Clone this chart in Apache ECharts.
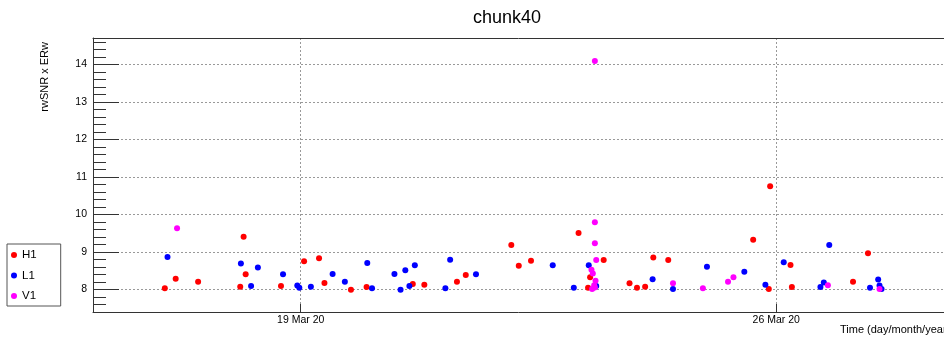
<!DOCTYPE html>
<html><head><meta charset="utf-8">
<script src="https://cdn.jsdelivr.net/npm/echarts@6/dist/echarts.min.js"></script>
<style>html,body{margin:0;padding:0;background:#fff}#c{width:944px;height:338px}</style>
</head><body><div id="c"></div>
<script>
// Detectors (legend order)
const categories = ['H1', 'L1', 'V1'];
const colors = ['#ff0000', '#0000ff', '#ff00ff'];

// Time in days of March 2020 (fractional), value rwSNR x ERw
const h1Time = [17.00,17.16,17.49,18.11,18.16,18.19,18.71,19.05,19.27,19.35,19.74,19.97,20.65,20.82,21.30,21.43,22.10,22.21,22.39,23.09,23.23,23.26,23.46,23.84,23.95,24.07,24.19,24.41,25.66,25.89,25.91,26.21,26.23,27.13,27.35];
const h1Val  = [8.03,8.28,8.20,8.07,9.40,8.40,8.09,8.75,8.83,8.17,7.99,8.06,8.14,8.12,8.20,8.38,9.18,8.63,8.76,9.50,8.04,8.32,8.78,8.16,8.04,8.07,8.85,8.78,9.32,8.01,10.75,8.65,8.06,8.20,8.96];

const l1Time = [17.04,18.12,18.27,18.37,18.74,18.95,18.98,19.15,19.47,19.65,19.98,20.05,20.38,20.47,20.54,20.60,20.68,21.13,21.20,21.58,22.71,23.02,23.24,23.35,24.18,24.48,24.98,25.53,25.84,26.11,26.65,26.70,26.78,27.38,27.50,27.52,27.55];
const l1Val  = [8.86,8.69,8.09,8.58,8.40,8.10,8.04,8.07,8.41,8.20,8.70,8.03,8.41,7.99,8.51,8.09,8.64,8.03,8.79,8.40,8.64,8.04,8.64,8.09,8.27,8.01,8.60,8.47,8.12,8.72,8.06,8.18,9.18,8.04,8.26,8.10,8.01];

const v1Time = [17.18,23.33,23.33,23.33,23.35,23.28,23.30,23.34,23.32,23.29,23.33,24.48,24.92,25.29,25.37,26.76,27.52];
const v1Val  = [9.63,14.09,9.79,9.23,8.78,8.52,8.42,8.23,8.11,8.01,8.05,8.16,8.03,8.20,8.32,8.11,8.01];

// Axis ticks / labels
const xTickValues = [19, 26];
const xTickLabels = ['19 Mar 20', '26 Mar 20'];
const yMajorTicks = [8, 9, 10, 11, 12, 13, 14];
const yMinorTicks = [];
for (let i = 37; i <= 73; i++) yMinorTicks.push(Math.round(i * 2) / 10);

const xMin = 15.943, xMax = 28.469;
const yMin = 7.395, yMax = 14.70;

const FONT = 'Liberation Sans';
const AX = '#333';
const gridLine = { show: true, lineStyle: { type: [2, 2], color: '#999', width: 1 } };

const zip = (a, b) => a.map((t, i) => [t, b[i]]);
const seriesData = [zip(h1Time, h1Val), zip(l1Time, l1Val), zip(v1Time, v1Val)];

const chart = echarts.init(document.getElementById('c'), null, { renderer: 'canvas' });
chart.setOption({
  animation: false,
  backgroundColor: '#fff',
  title: [
    { text: 'chunk40', left: 473, top: 9, padding: 0,
      textStyle: { fontFamily: FONT, fontSize: 18, fontWeight: 'normal', color: '#000' } },
    { text: 'Time (day/month/year)', left: 840, top: 324, padding: 0,
      textStyle: { fontFamily: FONT, fontSize: 11, fontWeight: 'normal', color: '#000' } }
  ],
  graphic: [
    { type: 'text', x: 45, y: 42, rotation: Math.PI / 2,
      style: { text: 'rwSNR x ERw', fontFamily: FONT, fontSize: 11, fill: '#000', align: 'right', verticalAlign: 'middle' } }
  ],
  legend: {
    orient: 'vertical', left: 7, top: 244,
    data: categories, icon: 'circle', itemWidth: 6, itemHeight: 6, itemGap: 6.5,
    borderColor: '#555', borderWidth: 1, padding: [4, 24, 3, 4],
    textStyle: { fontFamily: FONT, fontSize: 11.5, color: '#000', lineHeight: 14 }
  },
  grid: { left: 93, right: 0, top: 38, bottom: 26, containLabel: false },
  xAxis: [
    { type: 'value', min: xMin, max: xMax, position: 'bottom',
      axisLine: { show: true, lineStyle: { color: AX } },
      axisTick: { show: true, inside: true, length: 8, customValues: xTickValues, lineStyle: { color: AX } },
      axisLabel: { customValues: xTickValues, margin: 3, fontFamily: FONT, fontSize: 10.5, color: '#000',
        formatter: v => xTickLabels[xTickValues.indexOf(v)] || '' },
      splitLine: gridLine },
    { type: 'value', min: xMin, max: xMax, position: 'top',
      axisLine: { show: true, lineStyle: { color: AX } },
      axisTick: { show: false }, axisLabel: { show: false }, splitLine: { show: false } }
  ],
  yAxis: [
    { type: 'value', min: yMin, max: yMax, position: 'left',
      axisLine: { show: true, lineStyle: { color: AX } },
      axisTick: { show: true, inside: true, length: 13, customValues: yMinorTicks, lineStyle: { color: AX } },
      axisLabel: { show: false }, splitLine: { show: false } },
    { type: 'value', min: yMin, max: yMax, position: 'left',
      axisLine: { show: false },
      axisTick: { show: true, inside: true, length: 26, customValues: yMajorTicks, lineStyle: { color: AX } },
      axisLabel: { customValues: yMajorTicks, margin: 6, fontFamily: FONT, fontSize: 10.5, color: '#000' },
      splitLine: gridLine }
  ],
  series: categories.map((name, i) => ({
    name, type: 'scatter', data: seriesData[i],
    symbol: 'circle', symbolSize: 6,
    itemStyle: { color: colors[i], opacity: 1 },
    emphasis: { disabled: true }
  }))
});
</script></body></html>
